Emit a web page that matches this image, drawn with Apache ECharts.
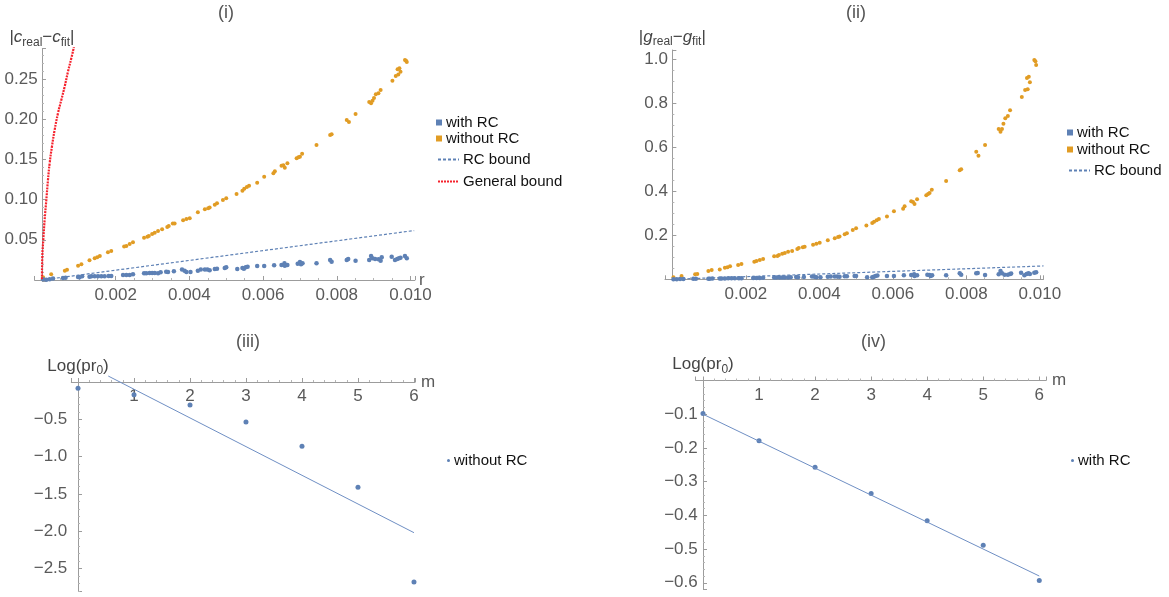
<!DOCTYPE html>
<html>
<head>
<meta charset="utf-8">
<title>RC fits</title>
<script src="https://cdn.jsdelivr.net/npm/echarts@6/dist/echarts.min.js"></script>
<style>
  html, body { margin: 0; padding: 0; background: #fff; }
  #chart { width: 1169px; height: 597px; }
</style>
</head>
<body>
<div id="chart"></div>
<script>
const rWith = [0.00003, 0.00012, 0.00021, 0.0003, 0.00057, 0.00064, 0.00098, 0.00102, 0.00109, 0.00129,
  0.00134, 0.00143, 0.00152, 0.00161, 0.0017, 0.00181, 0.00188, 0.0022, 0.00229, 0.00238,
  0.00247, 0.00277, 0.00283, 0.00292, 0.00299, 0.00306, 0.00315, 0.00322, 0.00337, 0.00342,
  0.00358, 0.0038, 0.00387, 0.00392, 0.00403, 0.00423, 0.00431, 0.00442, 0.00449, 0.00455,
  0.00469, 0.00475, 0.00496, 0.005,
  0.0053, 0.00544, 0.00548, 0.00553, 0.00558, 0.00584, 0.00603, 0.0063, 0.0065, 0.00658,
  0.00659, 0.00666, 0.00694, 0.007, 0.00703, 0.00707, 0.00745, 0.00782, 0.00786, 0.00827,
  0.00831, 0.00851, 0.00888, 0.00893, 0.00897, 0.00904, 0.00913, 0.00919, 0.00922, 0.00949,
  0.00958, 0.00964, 0.00969, 0.00973, 0.00985, 0.0099];
const cWith = [0.0008, 0.0003, 0.0008, 0.0017, 0.0025, 0.0029, 0.0037, 0.0033, 0.0046, 0.0041,
  0.0046, 0.0046, 0.0046, 0.0046, 0.0046, 0.005, 0.005, 0.0062, 0.0062, 0.0062,
  0.007, 0.0083, 0.0083, 0.0087, 0.0087, 0.0087, 0.0083, 0.0095, 0.0104, 0.010,
  0.0108, 0.0129, 0.0116, 0.010, 0.010, 0.0116, 0.0129, 0.0129, 0.0129, 0.012,
  0.0137, 0.0141, 0.0149, 0.0158,
  0.0137, 0.0149, 0.0141, 0.0158, 0.0166, 0.0174, 0.0174, 0.0182, 0.0187, 0.0207,
  0.0178, 0.0187, 0.0203, 0.0224, 0.0195, 0.0207, 0.0207, 0.0249, 0.0228, 0.0249,
  0.0261, 0.0240, 0.0249, 0.0299, 0.0270, 0.0261, 0.0257, 0.0240, 0.0282, 0.0290,
  0.0249, 0.0261, 0.0270, 0.0278, 0.0299, 0.0270];
const gWith = [0.0005, 0.0002, 0.0008, 0.0015, 0.002, 0.0025, 0.003, 0.0028, 0.004, 0.0035,
  0.004, 0.0042, 0.0045, 0.0044, 0.0046, 0.005, 0.0048, 0.006, 0.0058, 0.006,
  0.0066, 0.0078, 0.008, 0.0085, 0.0083, 0.0086, 0.008, 0.0093, 0.0101, 0.0097,
  0.0105, 0.0127, 0.0113, 0.0096, 0.0098, 0.0114, 0.0126, 0.0128, 0.0125, 0.0118,
  0.0135, 0.0139, 0.0146, 0.0155,
  0.009, 0.009, 0.012, 0.015, 0.0167, 0.015, 0.015, 0.018, 0.0197, 0.0227,
  0.015, 0.018, 0.0212, 0.0197, 0.015, 0.018, 0.018, 0.0273, 0.0212, 0.0273,
  0.0288, 0.0197, 0.0227, 0.0379, 0.0273, 0.0212, 0.0212, 0.0242, 0.026, 0.0303,
  0.018, 0.0242, 0.0273, 0.0242, 0.0303, 0.0318];

const rWithout = [0.00003, 0.00025, 0.00062, 0.00068, 0.00098, 0.00107, 0.00129, 0.00143, 0.0015, 0.00157,
  0.00179, 0.00188, 0.00223, 0.00229, 0.00238, 0.00247, 0.00277, 0.00286, 0.0029, 0.00299,
  0.00306, 0.00315, 0.00326, 0.0034, 0.00344, 0.00355, 0.0036, 0.00383, 0.00392, 0.00401,
  0.00423, 0.00442, 0.00451, 0.00455, 0.00469, 0.00475, 0.00491, 0.005, 0.00528, 0.00544,
  0.00549, 0.00556, 0.00562, 0.00584, 0.00603, 0.00628, 0.00632, 0.0065, 0.00655, 0.00659,
  0.00666, 0.00691, 0.00696, 0.007, 0.00706, 0.00745, 0.00782, 0.00786, 0.00827, 0.00833,
  0.00851, 0.00888, 0.00893, 0.00897, 0.00901, 0.00906, 0.00913, 0.00919, 0.00951, 0.0096,
  0.00967, 0.00965, 0.0097, 0.00973, 0.00985, 0.0099, 0.00988];
const cWithout = [0.0033, 0.0071, 0.0116, 0.0128, 0.0178, 0.0195, 0.0245, 0.027, 0.0282, 0.0299,
  0.0344, 0.0361, 0.0415, 0.0423, 0.0448, 0.0469, 0.0526, 0.0539, 0.0547, 0.0572,
  0.0589, 0.0609, 0.0631, 0.0659, 0.0672, 0.0701, 0.0701, 0.0742, 0.0759, 0.0767,
  0.0842, 0.0879, 0.0892, 0.09, 0.0937, 0.0954, 0.0995, 0.1016, 0.107, 0.111,
  0.1136, 0.1157, 0.1173, 0.121, 0.1285, 0.1327, 0.1352, 0.1422, 0.1426, 0.1397,
  0.1451, 0.1514, 0.1526, 0.1534, 0.1571, 0.1679, 0.1803, 0.1812, 0.199, 0.1965,
  0.2065, 0.2214, 0.2198, 0.223, 0.2264, 0.231, 0.2322, 0.2363, 0.2479, 0.2537,
  0.2554, 0.262, 0.2633, 0.2591, 0.2736, 0.2711, 0.2725];
const gWithout = [0.009, 0.0148, 0.0225, 0.024, 0.0375, 0.042, 0.045, 0.0527, 0.0545, 0.059,
  0.065, 0.0695, 0.08, 0.083, 0.0877, 0.0923, 0.1045, 0.106, 0.11, 0.1166,
  0.12, 0.1257, 0.1287, 0.138, 0.142, 0.1454, 0.148, 0.157, 0.162, 0.1664,
  0.177, 0.186, 0.192, 0.194, 0.2045, 0.209, 0.224, 0.232, 0.244, 0.256,
  0.262, 0.268, 0.274, 0.285, 0.309, 0.321, 0.332, 0.355, 0.351, 0.342,
  0.364, 0.382, 0.388, 0.392, 0.407, 0.447, 0.495, 0.5, 0.58, 0.562,
  0.61, 0.683, 0.671, 0.683, 0.707, 0.732, 0.742, 0.768, 0.828, 0.86,
  0.864, 0.915, 0.921, 0.895, 0.997, 0.974, 0.991];

// bound curves
const rcBoundR = [0, 0.0101];
const rcBoundC = [0, 0.0615];
const rcBoundG = [0, 0.0606];
const genBoundR = [0, 0.000009, 0.000036, 0.000072, 0.000118, 0.000163, 0.000208, 0.000271, 0.000344, 0.000434,
  0.000525, 0.000615, 0.000706, 0.000796, 0.000868];
const genBoundC = [0.001, 0.029, 0.0498, 0.0746, 0.0995, 0.1244, 0.145, 0.166, 0.1866, 0.2073,
  0.2239, 0.2404, 0.2591, 0.2757, 0.29];

// ---- panels (iii) and (iv) ----
const mVals = [0, 1, 2, 3, 4, 5, 6];
const logPrWithout = [-0.085, -0.17, -0.31, -0.536, -0.862, -1.41, -2.68];
const logPrWith = [-0.098, -0.179, -0.257, -0.335, -0.416, -0.489, -0.593];
const fitWithoutM = [0.54, 6.0];
const fitWithoutY = [0.08, -2.02];
const fitWithM = [0, 6];
const fitWithY = [-0.1, -0.58];

const BLUE = '#5e81b5', ORANGE = '#e19c24', RED = '#f5222d';
const AXIS = '#9c9c9c', LABEL = '#5a5a5a';
const FONT = '"Liberation Sans", Arial, sans-serif';

const zip = (xs, ys) => xs.map((x, i) => [x, ys[i]]);
const minus = s => s.replace('-', '\u2212');

// value axis in the Mathematica style: axes cross at the origin, ticks point inwards, no grid
function axis(gridIndex, min, max, fmt, extra) {
  return Object.assign({
    type: 'value', gridIndex, min, max, splitNumber: 5,
    nameMoveOverlap: false,
    axisLine: { onZero: true, lineStyle: { color: AXIS, width: 1 } },
    axisTick: { inside: true, length: 4, lineStyle: { color: AXIS } },
    minorTick: { show: true, splitNumber: 5, length: 2, lineStyle: { color: '#b5b5b5' } },
    splitLine: { show: false },
    axisLabel: {
      color: LABEL, fontSize: 17, fontFamily: FONT, margin: 5,
      showMinLabel: false, showMaxLabel: false,
      formatter: v => (Math.abs(v) < 1e-12 ? '' : minus(fmt(v)))
    },
    nameTextStyle: { color: LABEL, fontSize: 17, fontFamily: FONT }
  }, extra);
}

// m axis of the lower panels: drawn along y = 0 at the top, ticks up, labels below
function mAxis(gridIndex, min, max) {
  const a = axis(gridIndex, min, max, v => String(v), { name: 'm', nameGap: 6, position: 'top' });
  a.axisLine.onZero = false;
  a.axisTick.inside = false;
  a.axisLabel.inside = true;
  a.axisLabel.margin = 6;
  return a;
}

// y axes: only the label gap differs between panels
function yAx(gridIndex, min, max, fmt, gap, extra) {
  const a = axis(gridIndex, min, max, fmt, extra);
  a.axisLabel.margin = gap;
  return a;
}

const richName = {
  p: { fontSize: 17, color: '#444', fontFamily: FONT, lineHeight: 22 },
  i: { fontSize: 17, color: '#444', fontFamily: FONT, fontStyle: 'italic', lineHeight: 22 },
  s: { fontSize: 12, color: '#444', fontFamily: FONT, lineHeight: 12, verticalAlign: 'bottom' }
};

const chart = echarts.init(document.getElementById('chart'));

const option = {
  animation: false,
  backgroundColor: '#fff',
  title: [
    { text: '(i)', left: 218, top: 4 },
    { text: '(ii)', left: 846, top: 4 },
    { text: '(iii)', left: 236, top: 333 },
    { text: '(iv)', left: 861, top: 333 }
  ].map(t => Object.assign(t, {
    padding: 0,
    textStyle: { color: '#555', fontSize: 18, fontWeight: 'normal', fontFamily: FONT }
  })),
  grid: [
    { left: 34.6, top: 48.4, width: 380.3, height: 233.2 },
    { left: 665, top: 50, width: 378.5, height: 230.4 },
    { left: 71.3, top: 382, width: 343.8, height: 209.6 },
    { left: 695.7, top: 380.5, width: 350.3, height: 209 }
  ].map(g => Object.assign(g, { containLabel: false, outerBoundsMode: 'none' })),
  xAxis: [
    axis(0, -0.0002, 0.01012, v => v.toFixed(3), {
      name: 'r', nameGap: 4, nameTextStyle: { color: LABEL, fontSize: 17, fontFamily: FONT, padding: [0, 0, 6, 0] },
      minorTick: { show: true, splitNumber: 4, length: 2, lineStyle: { color: '#b5b5b5' } }
    }),
    axis(1, -0.0002, 0.0101, v => v.toFixed(3), {
      minorTick: { show: true, splitNumber: 4, length: 2, lineStyle: { color: '#b5b5b5' } }
    }),
    mAxis(2, -0.12, 6.02),
    mAxis(3, -0.13, 6.12)
  ],
  yAxis: [
    yAx(0, -0.002, 0.288, v => v.toFixed(2), -3, {
      name: '{p||}{i|c}{s|real}{p|\u2212}{i|c}{s|fit}{p||}', nameGap: 0,
      nameTextStyle: { rich: richName }
    }),
    yAx(1, -0.005, 1.042, v => v.toFixed(1), -3, {
      name: '{p||}{i|g}{s|real}{p|\u2212}{i|g}{s|fit}{p||}', nameGap: 2,
      nameTextStyle: { rich: richName },
      minorTick: { show: true, splitNumber: 4, length: 2, lineStyle: { color: '#b5b5b5' } }
    }),
    yAx(2, -2.81, 0, v => v.toFixed(1), 4, {
      name: '{p|Log(pr}{s|0}{p|)}', nameGap: 5,
      nameTextStyle: { rich: richName }
    }),
    yAx(3, -0.62, 0, v => v.toFixed(1), -2, {
      name: '{p|Log(pr}{s|0}{p|)}', nameGap: 5,
      nameTextStyle: { rich: richName }
    })
  ],
  legend: [
    { left: 436, top: 115, data: [{ name: 'with RC#1', icon: 'rect' }, { name: 'without RC#1', icon: 'rect' }],
      itemWidth: 6, itemHeight: 6, itemGap: 1 },
    { left: 437, top: 152, data: ['RC bound#1', 'General bound#1'], itemWidth: 21, itemHeight: 8, itemGap: 7,
      itemStyle: { opacity: 0, borderWidth: 0 } },
    { left: 1067, top: 125, data: [{ name: 'with RC#2', icon: 'rect' }, { name: 'without RC#2', icon: 'rect' }],
      itemWidth: 6, itemHeight: 6, itemGap: 2 },
    { left: 1068, top: 163, data: ['RC bound#2'], itemWidth: 21, itemHeight: 8,
      itemStyle: { opacity: 0, borderWidth: 0 } },
    { left: 447, top: 453, data: [{ name: 'without RC#3', icon: 'circle' }], itemWidth: 3, itemHeight: 3 },
    { left: 1071, top: 453, data: [{ name: 'with RC#4', icon: 'circle' }], itemWidth: 3, itemHeight: 3 }
  ].map(l => Object.assign(l, {
    orient: 'vertical', padding: 0, selectedMode: false,
    formatter: n => n.split('#')[0],
    textStyle: { color: '#111', fontSize: 15, fontFamily: FONT, padding: [0, 0, 0, -1] }
  })),
  series: [
    // (i)
    { name: 'General bound#1', type: 'line', xAxisIndex: 0, yAxisIndex: 0, data: zip(genBoundR, genBoundC),
      showSymbol: false, symbol: 'none', smooth: true, lineStyle: { color: RED, width: 2.2, type: [2, 1] },
      itemStyle: { color: RED } },
    { name: 'RC bound#1', type: 'line', xAxisIndex: 0, yAxisIndex: 0, data: zip(rcBoundR, rcBoundC),
      symbol: 'none', lineStyle: { color: BLUE, width: 1.2, type: [3, 2] }, itemStyle: { color: BLUE } },
    { name: 'without RC#1', type: 'scatter', xAxisIndex: 0, yAxisIndex: 0, data: zip(rWithout, cWithout),
      symbolSize: 4, itemStyle: { color: ORANGE, opacity: 1 } },
    { name: 'with RC#1', type: 'scatter', xAxisIndex: 0, yAxisIndex: 0, data: zip(rWith, cWith),
      symbolSize: 4.5, itemStyle: { color: BLUE, opacity: 1 } },
    // (ii)
    { name: 'RC bound#2', type: 'line', xAxisIndex: 1, yAxisIndex: 1, data: zip(rcBoundR, rcBoundG),
      symbol: 'none', lineStyle: { color: BLUE, width: 1.2, type: [3, 2] }, itemStyle: { color: BLUE } },
    { name: 'without RC#2', type: 'scatter', xAxisIndex: 1, yAxisIndex: 1, data: zip(rWithout, gWithout),
      symbolSize: 4, itemStyle: { color: ORANGE, opacity: 1 } },
    { name: 'with RC#2', type: 'scatter', xAxisIndex: 1, yAxisIndex: 1, data: zip(rWith, gWith),
      symbolSize: 4.5, itemStyle: { color: BLUE, opacity: 1 } },
    // (iii)
    { name: 'fit#3', type: 'line', xAxisIndex: 2, yAxisIndex: 2, data: zip(fitWithoutM, fitWithoutY),
      symbol: 'none', clip: false, lineStyle: { color: '#6f8fc4', width: 1 } },
    { name: 'without RC#3', type: 'scatter', xAxisIndex: 2, yAxisIndex: 2, data: zip(mVals, logPrWithout),
      symbolSize: 5, clip: false, itemStyle: { color: BLUE, opacity: 1 } },
    // (iv)
    { name: 'fit#4', type: 'line', xAxisIndex: 3, yAxisIndex: 3, data: zip(fitWithM, fitWithY),
      symbol: 'none', clip: false, lineStyle: { color: '#6f8fc4', width: 1 } },
    { name: 'with RC#4', type: 'scatter', xAxisIndex: 3, yAxisIndex: 3, data: zip(mVals, logPrWith),
      symbolSize: 5, clip: false, itemStyle: { color: BLUE, opacity: 1 } }
  ]
};

chart.setOption(option);
</script>
</body>
</html>
